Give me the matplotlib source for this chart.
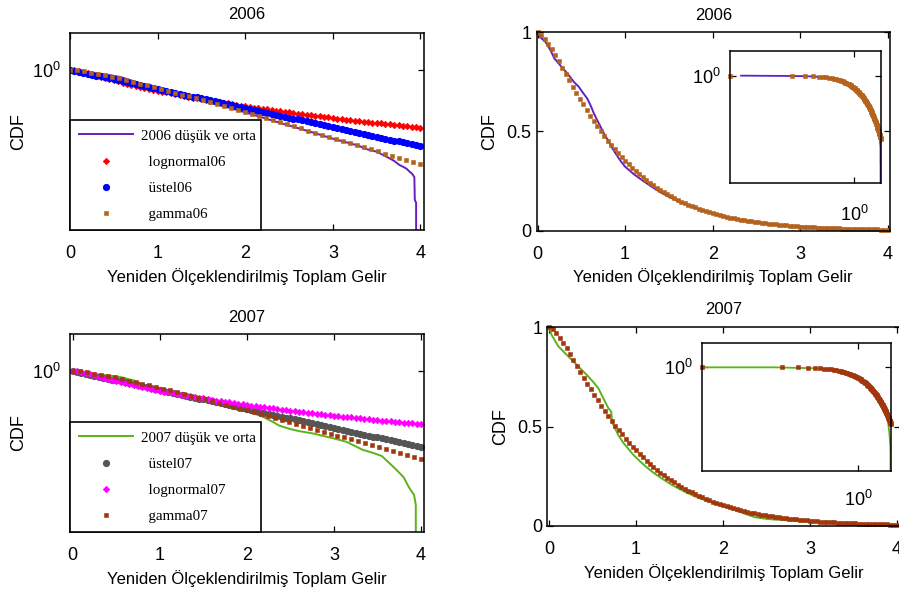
import numpy as np
import matplotlib
matplotlib.use('Agg')
import matplotlib.pyplot as plt
from matplotlib.ticker import FixedLocator, FixedFormatter, NullLocator

plt.rcParams['font.family'] = ['Liberation Sans', 'DejaVu Sans']
plt.rcParams['mathtext.fontset'] = 'custom'
plt.rcParams['mathtext.rm'] = 'Liberation Sans'
plt.rcParams['mathtext.it'] = 'Liberation Sans:italic'
plt.rcParams['mathtext.bf'] = 'Liberation Sans:bold'

# ---------------- data ----------------
x_fit = np.linspace(0, 4, 81)
lognormal06 = [1.000, 0.987, 0.945, 0.889, 0.831, 0.774, 0.721, 0.671, 0.625, 0.584, 0.546,
               0.511, 0.479, 0.449, 0.423, 0.398, 0.375, 0.354, 0.335, 0.317, 0.300,
               0.285, 0.271, 0.257, 0.245, 0.233, 0.222, 0.212, 0.203, 0.194, 0.185,
               0.177, 0.170, 0.163, 0.156, 0.150, 0.144, 0.138, 0.133, 0.128, 0.123,
               0.118, 0.114, 0.110, 0.106, 0.102, 0.0985, 0.0951, 0.0920, 0.0889, 0.0860,
               0.0831, 0.0803, 0.0778, 0.0754, 0.0730, 0.0707, 0.0684, 0.0663, 0.0644, 0.0625,
               0.0607, 0.0589, 0.0571, 0.0554, 0.0539, 0.0524, 0.0510, 0.0496, 0.0482, 0.0469,
               0.0456, 0.0443, 0.0432, 0.0421, 0.0410, 0.0400, 0.0389, 0.0379, 0.0369, 0.0359]
ustel06 = [1.0, 0.9465, 0.8959, 0.8480, 0.8027, 0.7598, 0.7191, 0.6807, 0.6443, 0.6098, 0.5772,
           0.5464, 0.5171, 0.4895, 0.4633, 0.4385, 0.4151, 0.3929, 0.3719, 0.3520, 0.3332,
           0.3154, 0.2985, 0.2825, 0.2674, 0.2531, 0.2396, 0.2268, 0.2147, 0.2032, 0.1923,
           0.1820, 0.1723, 0.1631, 0.1544, 0.1461, 0.1383, 0.1309, 0.1239, 0.1173, 0.1110,
           0.1051, 0.0995, 0.0941, 0.0891, 0.0843, 0.0798, 0.0756, 0.0715, 0.0677, 0.0641,
           0.0607, 0.0574, 0.0543, 0.0514, 0.0487, 0.0461, 0.0436, 0.0413, 0.0391, 0.0370,
           0.0350, 0.0331, 0.0314, 0.0297, 0.0281, 0.0266, 0.0252, 0.0238, 0.0226, 0.0214,
           0.0202, 0.0191, 0.0181, 0.0171, 0.0162, 0.0154, 0.0145, 0.0138, 0.0130, 0.0123]
lognormal07 = [1.000, 0.984, 0.939, 0.883, 0.827, 0.772, 0.722, 0.675, 0.632, 0.593, 0.557,
               0.524, 0.493, 0.466, 0.440, 0.416, 0.395, 0.374, 0.356, 0.338, 0.322,
               0.307, 0.293, 0.280, 0.267, 0.256, 0.245, 0.235, 0.225, 0.216, 0.207,
               0.199, 0.192, 0.184, 0.178, 0.171, 0.165, 0.159, 0.154, 0.148, 0.143,
               0.138, 0.134, 0.129, 0.125, 0.121, 0.117, 0.114, 0.110, 0.107, 0.104,
               0.101, 0.0975, 0.0947, 0.0921, 0.0896, 0.0871, 0.0846, 0.0822, 0.0799, 0.0778,
               0.0758, 0.0738, 0.0719, 0.0700, 0.0681, 0.0663, 0.0647, 0.0632, 0.0616, 0.0601,
               0.0586, 0.0572, 0.0557, 0.0544, 0.0532, 0.0520, 0.0508, 0.0497, 0.0486, 0.0474]
ustel07 = [1.0, 0.9471, 0.8970, 0.8496, 0.8046, 0.7621, 0.7217, 0.6836, 0.6474, 0.6132, 0.5807,
           0.5500, 0.5209, 0.4934, 0.4673, 0.4425, 0.4191, 0.3970, 0.3760, 0.3561, 0.3372,
           0.3194, 0.3025, 0.2865, 0.2713, 0.2570, 0.2434, 0.2305, 0.2183, 0.2068, 0.1958,
           0.1855, 0.1757, 0.1664, 0.1576, 0.1492, 0.1413, 0.1339, 0.1268, 0.1201, 0.1137,
           0.1077, 0.1020, 0.0966, 0.0915, 0.0867, 0.0821, 0.0777, 0.0736, 0.0697, 0.0660,
           0.0626, 0.0592, 0.0561, 0.0531, 0.0503, 0.0477, 0.0452, 0.0428, 0.0405, 0.0384,
           0.0363, 0.0344, 0.0326, 0.0309, 0.0292, 0.0277, 0.0262, 0.0248, 0.0235, 0.0223,
           0.0211, 0.0200, 0.0189, 0.0179, 0.0170, 0.0161, 0.0152, 0.0144, 0.0137, 0.0129]

x_gamma06 = np.linspace(0.0017, 4.0, 101)
gamma06 = [1.000, 0.988, 0.967, 0.942, 0.914, 0.884, 0.853, 0.821, 0.789, 0.758,
           0.726, 0.696, 0.665, 0.636, 0.607, 0.579, 0.552, 0.526, 0.501, 0.477,
           0.454, 0.431, 0.410, 0.389, 0.370, 0.351, 0.333, 0.316, 0.299, 0.284,
           0.269, 0.254, 0.241, 0.228, 0.216, 0.2045, 0.1934, 0.1829, 0.1730, 0.1636,
           0.1547, 0.1462, 0.1382, 0.1306, 0.1234, 0.1166, 0.1101, 0.1039, 0.0981, 0.0926,
           0.0874, 0.0825, 0.0778, 0.0734, 0.0693, 0.0654, 0.0617, 0.0582, 0.0549, 0.0517,
           0.0488, 0.0460, 0.0434, 0.0409, 0.0385, 0.0363, 0.0342, 0.0323, 0.0304, 0.0287,
           0.0270, 0.0254, 0.0240, 0.0226, 0.0213, 0.0200, 0.01883, 0.01774, 0.01670, 0.01573,
           0.01481, 0.01394, 0.01313, 0.01236, 0.01163, 0.01095, 0.01031, 0.00970, 0.00913, 0.00860,
           0.00809, 0.00761, 0.00716, 0.00674, 0.00634, 0.00596, 0.00561, 0.00527, 0.00496, 0.00467,
           0.00439]
x_gamma07 = np.linspace(0.0014, 4.0, 101)
gamma07 = [1.000, 0.989, 0.970, 0.947, 0.921, 0.893, 0.864, 0.835, 0.805, 0.775,
           0.746, 0.716, 0.688, 0.659, 0.632, 0.605, 0.579, 0.553, 0.529, 0.505,
           0.483, 0.461, 0.439, 0.419, 0.399, 0.380, 0.362, 0.345, 0.328, 0.312,
           0.297, 0.2821, 0.2681, 0.2548, 0.2422, 0.2302, 0.2186, 0.2075, 0.1970, 0.1871,
           0.1776, 0.1685, 0.1598, 0.1516, 0.1438, 0.1364, 0.1293, 0.1226, 0.1162, 0.1101,
           0.1044, 0.0989, 0.0937, 0.0888, 0.0841, 0.0797, 0.0755, 0.0714, 0.0676, 0.0640,
           0.0606, 0.0573, 0.0543, 0.0514, 0.0486, 0.0460, 0.0435, 0.0412, 0.0390, 0.0369,
           0.0349, 0.0330, 0.0312, 0.0295, 0.0279, 0.0264, 0.0249, 0.0236, 0.0223, 0.0211,
           0.0199, 0.01881, 0.01777, 0.01680, 0.01587, 0.01500, 0.01418, 0.01340, 0.01267, 0.01198,
           0.01132, 0.01069, 0.01010, 0.00954, 0.00901, 0.00851, 0.00804, 0.00759, 0.00717, 0.00677,
           0.00640]

x_emp06 = [0.003, 0.03, 0.088, 0.146, 0.192, 0.241, 0.299, 0.356, 0.414, 0.471,
           0.510, 0.567, 0.605, 0.644, 0.682, 0.720, 0.759, 0.805, 0.854, 0.90,
           0.95, 1.00, 1.10, 1.20, 1.30, 1.40, 1.50, 1.60, 1.70, 1.80,
           1.90, 2.00, 2.20, 2.40, 2.60, 2.80, 3.00, 3.15, 3.29, 3.38,
           3.50, 3.61, 3.70, 3.76, 3.80, 3.84, 3.88, 3.90, 3.93, 3.935,
           3.95, 3.965]
emp06 = [1.0, 0.975, 0.953, 0.911, 0.868, 0.843, 0.813, 0.784, 0.750, 0.725,
         0.700, 0.666, 0.632, 0.590, 0.556, 0.523, 0.489, 0.455, 0.415, 0.383,
         0.350, 0.322, 0.284, 0.252, 0.222, 0.194, 0.170, 0.149, 0.131, 0.115,
         0.100, 0.086, 0.064, 0.047, 0.035, 0.026, 0.019, 0.0155, 0.0128, 0.0105,
         0.0090, 0.0068, 0.0053, 0.0042, 0.0038, 0.0034, 0.0028, 0.0026, 0.0021, 0.00056,
         0.00048, 0.0]
x_emp07 = [0.0, 0.03, 0.107, 0.165, 0.222, 0.280, 0.337, 0.395, 0.452, 0.510,
           0.567, 0.605, 0.644, 0.682, 0.715, 0.725, 0.759, 0.797, 0.854, 0.912,
           0.969, 1.046, 1.123, 1.20, 1.30, 1.40, 1.50, 1.60, 1.70, 1.80,
           1.90, 2.00, 2.10, 2.20, 2.30, 2.37, 2.50, 2.60, 2.76, 3.00,
           3.14, 3.33, 3.45, 3.55, 3.60, 3.69, 3.80, 3.86, 3.92, 3.94, 3.96]
emp07 = [1.0, 0.96, 0.903, 0.877, 0.852, 0.827, 0.802, 0.776, 0.751, 0.723,
         0.692, 0.659, 0.625, 0.592, 0.575, 0.524, 0.491, 0.457, 0.418, 0.388,
         0.358, 0.325, 0.295, 0.268, 0.238, 0.210, 0.186, 0.164, 0.145, 0.128,
         0.113, 0.099, 0.085, 0.070, 0.054, 0.044, 0.036, 0.032, 0.028, 0.021,
         0.0175, 0.011, 0.0092, 0.0077, 0.0061, 0.0040, 0.0023, 0.0013, 0.00083, 0.00047, 0.0]

titles = ['2006', '2006', '2007', '2007']
xlabel_text = 'Yeniden Ölçeklendirilmiş Toplam Gelir'
ylabel_text = 'CDF'
lab06 = ['2006 düşük ve orta', '  lognormal06', '  üstel06', '  gamma06']
lab07 = ['2007 düşük ve orta', '  üstel07', '  lognormal07', '  gamma07']

C_PURPLE = '#6420be'
C_G06 = '#b5621c'
C_GREEN = '#5ab418'
C_GREY = '#555555'
C_G07 = '#a2360c'

W, H = 899, 594
fig = plt.figure(figsize=(W / 100, H / 100), dpi=100)


def px(l, t, r, b):
    return [l / W, (H - b) / H, (r - l) / W, (b - t) / H]


SUP0 = r'$\mathregular{10^{0}}$'
LOG_YLIM = (1e-4, 10 ** 0.918)
TICK_FS = 13


def style_common(ax, hpx, ylab_x, xlab_gap, title, title_pad):
    for s in ax.spines.values():
        s.set_linewidth(1.1)
    ax.tick_params(direction='in', top=True, right=True, length=4, width=0.9,
                   labelsize=TICK_FS, colors='black')
    ax.tick_params(axis='x', pad=11)
    ax.set_xlabel(xlabel_text, fontsize=12)
    ax.xaxis.set_label_coords(0.5, -xlab_gap / hpx)
    ax.xaxis.label.set_verticalalignment('center')
    ax.set_ylabel(ylabel_text, fontsize=13)
    ax.yaxis.set_label_coords(ylab_x, 0.5)
    ax.yaxis.label.set_verticalalignment('center')
    ax.set_title(title, fontsize=12, pad=title_pad)


def semilog_panel(box, xlim, title, emp, fits, labels, emp_color, title_pad):
    ax = fig.add_axes(px(*box))
    hpx = box[3] - box[1]
    ax.set_yscale('log')
    h = []
    h += ax.plot(emp[0], emp[1], color=emp_color, lw=1.4)
    for (xx, yy, mk, ms, col, mew) in fits:
        h += ax.plot(xx, yy, ls='none', marker=mk, ms=ms, color=col, mew=mew)
    ax.set_xlim(*xlim)
    ax.set_ylim(*LOG_YLIM)
    ax.set_xticks([0, 1, 2, 3, 4])
    ax.yaxis.set_major_locator(FixedLocator([1.0]))
    ax.yaxis.set_major_formatter(FixedFormatter([SUP0]))
    ax.yaxis.set_minor_locator(NullLocator())
    style_common(ax, hpx, (19 - box[0]) / (box[2] - box[0]), 47, title, title_pad)
    ax.tick_params(axis='y', pad=7)
    leg = ax.legend(h, labels, loc='lower left', bbox_to_anchor=(0, 0, 0.54, 0.57),
                    mode='expand', borderaxespad=0, fancybox=False, framealpha=1,
                    edgecolor='black', prop={'family': 'Liberation Serif', 'size': 10.8},
                    borderpad=0.6, labelspacing=0.84, handlelength=3.6,
                    handletextpad=0.55, numpoints=1)
    leg.get_frame().set_linewidth(1.2)
    return ax


def linear_panel(box, xlim, title, emp, gx, gy, emp_color, gcol, inset_box, ylab_px,
                 title_pad, inset_xpad):
    ax = fig.add_axes(px(*box))
    hpx = box[3] - box[1]
    ax.plot(emp[0], emp[1], color=emp_color, lw=1.4)
    ax.plot(gx, gy, ls='none', marker='s', ms=3.1, color=gcol, mew=0.4, clip_on=False)
    ax.set_xlim(*xlim)
    ax.set_ylim(0, 1)
    ax.set_xticks([0, 1, 2, 3, 4])
    ax.set_yticks([0, 0.5, 1])
    ax.set_yticklabels(['0', '0.5', '1'])
    style_common(ax, hpx, (ylab_px - box[0]) / (box[2] - box[0]), 46.5, title, title_pad)
    ax.tick_params(axis='y', pad=3.5)

    axi = fig.add_axes(px(*inset_box))
    axi.set_xscale('log')
    axi.set_yscale('log')
    axi.plot(emp[0], emp[1], color=emp_color, lw=1.3)
    axi.plot(gx, gy, ls='none', marker='s', ms=3.1, color=gcol, mew=0.4, clip_on=False)
    axi.set_xlim(gx[0], 4.03)
    axi.set_ylim(*LOG_YLIM)
    for a in (axi.xaxis, axi.yaxis):
        a.set_major_locator(FixedLocator([1.0]))
        a.set_major_formatter(FixedFormatter([SUP0]))
        a.set_minor_locator(NullLocator())
    for s in axi.spines.values():
        s.set_linewidth(1.1)
    axi.tick_params(direction='in', top=True, right=True, length=4, width=0.9,
                    labelsize=TICK_FS)
    axi.tick_params(axis='x', pad=inset_xpad)
    axi.tick_params(axis='y', pad=7)
    return ax


semilog_panel((70, 33, 424, 230), (0, 4.04), titles[0], (x_emp06, emp06),
              [(x_fit, lognormal06, 'D', 3.3, 'red', 0.5),
               (x_fit, ustel06, 'o', 5.2, 'blue', 0.0),
               (x_gamma06[::2], gamma06[::2], 's', 3.4, C_G06, 0.4)],
              lab06, C_PURPLE, 10)

linear_panel((536.5, 32.3, 890, 230.5), (-0.012, 4.025), titles[1], (x_emp06, emp06),
             x_gamma06, gamma06, C_PURPLE, C_G06, (730, 51, 881, 183), 490, 9, 16)

semilog_panel((70, 334, 424, 532), (-0.031, 4.034), titles[2], (x_emp07, emp07),
              [(x_fit, ustel07, 'o', 5.2, C_GREY, 0.0),
               (x_fit, lognormal07, 'D', 3.3, '#ff00ff', 0.5),
               (x_gamma07[::2], gamma07[::2], 's', 3.4, C_G07, 0.4)],
              lab07, C_GREEN, 9)

linear_panel((547, 327, 900, 526), (-0.023, 4.035), titles[3], (x_emp07, emp07),
             x_gamma07, gamma07, C_GREEN, C_G07, (702, 343, 891, 471), 501, 9, 13.5)

fig.savefig('out.png', dpi=100)
